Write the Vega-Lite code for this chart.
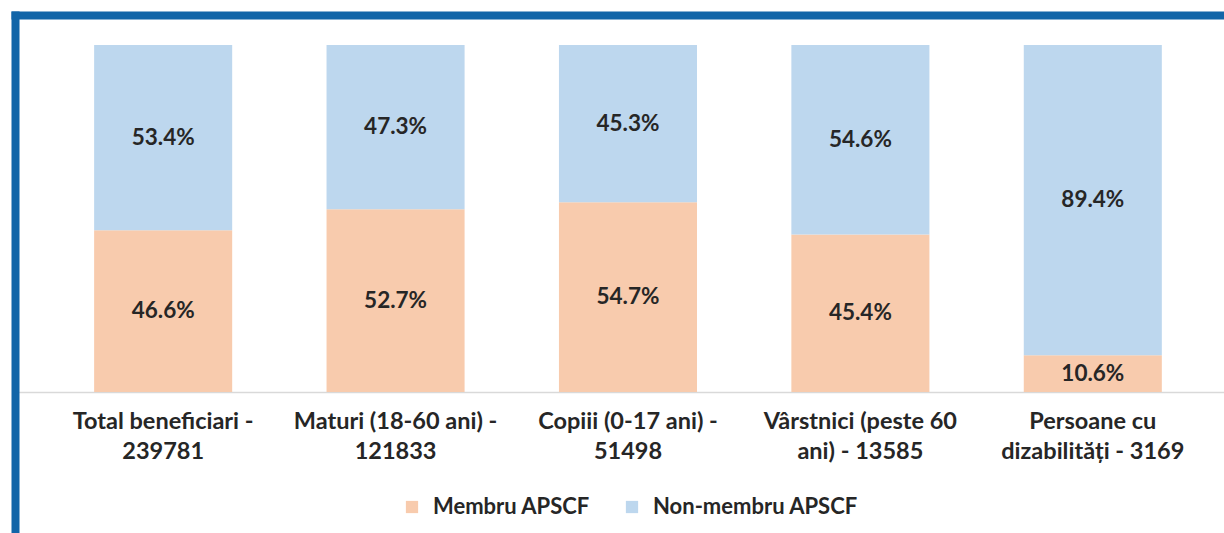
{
  "$schema": "https://vega.github.io/schema/vega-lite/v6.json",
  "width": 1209,
  "height": 518,
  "autosize": {"type": "none"},
  "padding": {"left": 15, "top": 15, "right": 0, "bottom": 0},
  "background": "white",
  "config": {
    "view": {"stroke": null},
    "font": "Lato"
  },
  "data": {
    "values": [
      {"category": "Total  beneficiari -|239781", "group": "Membru APSCF", "value": 0.466, "label": "46.6%"},
      {"category": "Total  beneficiari -|239781", "group": "Non-membru  APSCF", "value": 0.534, "label": "53.4%"},
      {"category": "Maturi (18-60 ani) -|121833", "group": "Membru APSCF", "value": 0.527, "label": "52.7%"},
      {"category": "Maturi (18-60 ani) -|121833", "group": "Non-membru  APSCF", "value": 0.473, "label": "47.3%"},
      {"category": "Copiii (0-17 ani) -|51498", "group": "Membru APSCF", "value": 0.547, "label": "54.7%"},
      {"category": "Copiii (0-17 ani) -|51498", "group": "Non-membru  APSCF", "value": 0.453, "label": "45.3%"},
      {"category": "Vârstnici (peste 60|ani) - 13585", "group": "Membru APSCF", "value": 0.454, "label": "45.4%"},
      {"category": "Vârstnici (peste 60|ani) - 13585", "group": "Non-membru  APSCF", "value": 0.546, "label": "54.6%"},
      {"category": "Persoane cu|dizabilități - 3169", "group": "Membru APSCF", "value": 0.106, "label": "10.6%"},
      {"category": "Persoane cu|dizabilități - 3169", "group": "Non-membru  APSCF", "value": 0.894, "label": "89.4%"}
    ]
  },
  "transform": [
    {"stack": "value", "groupby": ["category"], "sort": [{"field": "group", "order": "ascending"}], "as": ["v0", "v1"]},
    {"calculate": "(datum.v0 + datum.v1) / 2", "as": "mid"}
  ],
  "layer": [
    {
      "mark": {"type": "bar"},
      "encoding": {
        "x": {
          "field": "category",
          "type": "nominal",
          "sort": null,
          "scale": {"paddingInner": 0.406, "paddingOuter": 0.304, "align": 0.56},
          "axis": {
            "title": null,
            "orient": "bottom",
            "offset": -141,
            "labelAngle": 0,
            "labelExpr": "split(datum.value, '|')",
            "labelFontSize": 23.5,
            "labelFontWeight": "bold",
            "labelColor": "#262626",
            "labelLineHeight": 30,
            "labelPadding": 17,
            "labelBaseline": "top",
            "labelLimit": 0,
            "ticks": false,
            "domainColor": "#d9d9d9",
            "domainWidth": 1.5,
            "grid": false
          }
        },
        "y": {
          "field": "v0",
          "type": "quantitative",
          "scale": {"domain": [-0.4063, 1.0865], "nice": false, "zero": false},
          "axis": {
            "title": null,
            "labels": false,
            "ticks": false,
            "grid": false,
            "domainColor": "#1265a8",
            "domainWidth": 8,
            "domainCap": "square"
          }
        },
        "y2": {"field": "v1"},
        "color": {
          "field": "group",
          "type": "nominal",
          "scale": {"domain": ["Membru APSCF", "Non-membru  APSCF"], "range": ["#f8cbad", "#bdd7ee"]},
          "legend": {
            "title": null,
            "orient": "none",
            "direction": "horizontal",
            "legendX": 386,
            "legendY": 481,
            "padding": 0,
            "symbolType": "square",
            "symbolSize": 150,
            "symbolStrokeWidth": 0,
            "labelFontSize": 22,
            "labelFontWeight": "bold",
            "labelColor": "#262626",
            "labelOffset": 10,
            "labelLimit": 0,
            "columnPadding": 30
          }
        }
      }
    },
    {
      "mark": {"type": "text", "fontSize": 22.5, "fontWeight": "bold", "color": "#262626"},
      "encoding": {
        "x": {
          "field": "category",
          "type": "nominal",
          "sort": null,
          "scale": {"paddingInner": 0.406, "paddingOuter": 0.304, "align": 0.56},
          "axis": {
            "title": null,
            "orient": "top",
            "labels": false,
            "ticks": false,
            "grid": false,
            "domainColor": "#1265a8",
            "domainWidth": 8,
            "domainCap": "square"
          }
        },
        "y": {"field": "mid", "type": "quantitative"},
        "text": {"field": "label"}
      }
    }
  ],
  "resolve": {"axis": {"x": "independent"}}
}
